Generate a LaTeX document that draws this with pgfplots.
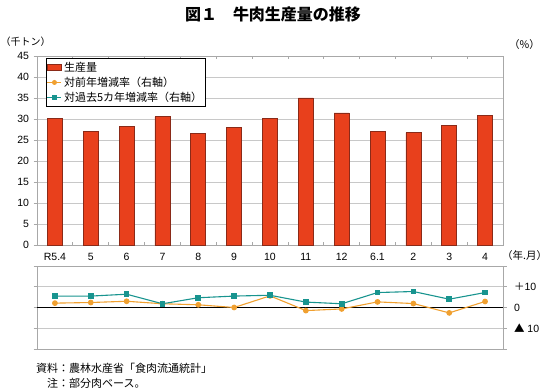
\documentclass[border=0pt]{standalone}
\usepackage{fontspec}
\setmainfont{Liberation Sans}
\newfontfamily\cjk{Noto Sans CJK JP}
\usepackage{pgfplots}
\pgfplotsset{compat=1.18}
\definecolor{barred}{HTML}{E8401C}
\definecolor{baredge}{HTML}{8A2A18}
\definecolor{teal2}{HTML}{18948F}
\definecolor{orange2}{HTML}{F0A030}
\definecolor{gridg}{HTML}{C8C8C8}
\definecolor{axg}{HTML}{A8A8A8}
\pgfplotsset{linelegend/.style={legend image code/.code={\draw[mark repeat=2,mark phase=2,##1] plot coordinates {(0pt,0pt) (7pt,0pt) (14pt,0pt)};}}}
\begin{document}
\begin{tikzpicture}
\useasboundingbox (0pt,0pt) rectangle (550pt,390pt);
\node[font=\cjk\bfseries\fontsize{16}{16}\selectfont] at (273pt,376pt) {図１　牛肉生産量の推移};
\node[anchor=west,inner sep=0pt,font=\cjk\fontsize{10}{10}\selectfont] at (0.5pt,348pt) {（千トン）};
\node[anchor=west,inner sep=0pt,font=\cjk\fontsize{10.5}{10.5}\selectfont] at (509pt,345pt) {（\%）};
\node[anchor=west,inner sep=0pt,font=\cjk\fontsize{10.5}{10.5}\selectfont] at (502pt,134pt) {（年.月）};
\node[anchor=west,inner sep=0pt,font=\cjk\fontsize{11}{11}\selectfont] at (36pt,22pt) {資料：農林水産省「食肉流通統計」};
\node[anchor=west,inner sep=0pt,font=\cjk\fontsize{11}{11}\selectfont] at (47pt,7pt) {注：部分肉ベース。};

\begin{axis}[
  at={(37pt,144.7pt)}, anchor=south west,
  scale only axis, width=466pt, height=189pt,
  xmin=-0.5, xmax=12.5, ymin=0, ymax=45,
  ytick={0,5,...,45},
  xtick={0,...,12},
  xticklabels={R5.4,5,6,7,8,9,10,11,12,6.1,2,3,4},
  major x tick style={draw=none},
  extra x ticks={0.5,1.5,...,11.5},
  extra x tick labels={},
  extra x tick style={tick align=inside, major tick length=3pt, grid=none, major x tick style={draw=axg}},
  tick align=outside, major tick length=3.5pt,
  ytick pos=left,
  ymajorgrids, grid style={gridg, line width=0.7pt},
  axis line style={axg, line width=0.7pt},
  tick style={axg, line width=0.7pt},
  /pgf/number format/assume math mode=true,
  ticklabel style={font=\fontsize{10.5}{10.5}\selectfont},
  yticklabel style={xshift=-1pt},
  xticklabel style={yshift=-0.5pt},
  legend cell align=left,
  legend style={at={(0.0187,0.989)}, anchor=north west, draw=black, line width=0.6pt,
    font=\cjk\fontsize{11}{11}\selectfont, inner sep=1pt, row sep=0pt,
    nodes={inner sep=2.2pt}},
]
\addplot[ybar, bar width=15pt, fill=barred, draw=baredge, line width=0.7pt,
  legend image code/.code={\draw[fill=barred,draw=baredge,line width=0.6pt] (0pt,-2.8pt) rectangle (14pt,2.8pt);}]
  coordinates {(0,30.2)(1,27.2)(2,28.3)(3,30.6)(4,26.7)(5,28.0)(6,30.3)(7,35.1)(8,31.5)(9,27.2)(10,26.8)(11,28.6)(12,31.0)};
\addlegendentry{生産量}
\addlegendimage{orange2, line width=0.9pt, mark=*, mark size=2pt, linelegend}
\addlegendentry{対前年増減率（右軸）}
\addlegendimage{teal2, line width=0.9pt, mark=square*, mark size=2pt, linelegend}
\addlegendentry{対過去5カ年増減率（右軸）}
\end{axis}

\begin{axis}[
  at={(37pt,41pt)}, anchor=south west,
  scale only axis, width=466pt, height=83pt,
  xmin=-0.5, xmax=12.5, ymin=-20, ymax=20,
  xtick=\empty,
  ytick={-20,-10,0,10,20},
  yticklabels={,{\cjk ▲} 10,0,{\cjk ＋}10,},
  ytick pos=both, yticklabel pos=right,
  tick align=outside, major tick length=3.5pt,
  ymajorgrids, grid style={gridg, line width=0.7pt},
  axis line style={axg, line width=0.7pt},
  tick style={axg, line width=0.7pt},
  ticklabel style={font=\fontsize{10.5}{10.5}\selectfont},
  yticklabel style={anchor=west, xshift=4pt},
  clip=false,
]
\addplot[black, line width=1.2pt] coordinates {(-0.5,0)(12.5,0)};
\addplot[orange2, line width=1.1pt, mark=*, mark size=2.3pt]
  coordinates {(0,2.1)(1,2.4)(2,3.0)(3,1.8)(4,1.3)(5,0.0)(6,5.6)(7,-1.5)(8,-0.7)(9,2.7)(10,1.9)(11,-2.6)(12,2.9)};
\addplot[teal2, line width=1.1pt, mark=square*, mark size=2.3pt]
  coordinates {(0,5.5)(1,5.5)(2,6.4)(3,1.8)(4,4.7)(5,5.5)(6,5.9)(7,2.6)(8,1.8)(9,7.2)(10,7.7)(11,4.0)(12,7.2)};
\end{axis}
\end{tikzpicture}
\end{document}
